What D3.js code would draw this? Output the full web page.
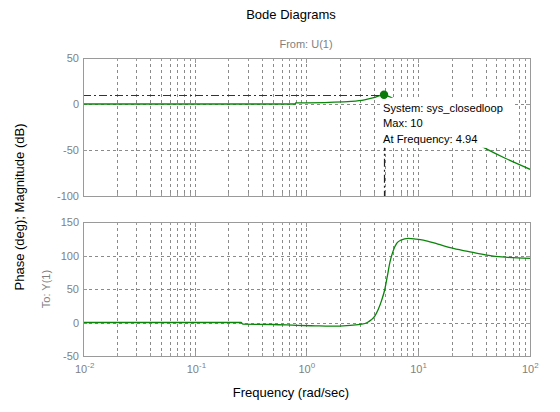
<!DOCTYPE html>
<html>
<head>
<meta charset="utf-8">
<script src="https://cdn.jsdelivr.net/npm/d3@7"></script>
<style>
  html, body { margin: 0; padding: 0; background: #fff; }
  svg { display: block; font-family: "Liberation Sans", Arial, Helvetica, sans-serif; }
</style>
</head>
<body>
<svg id="chart" width="560" height="412"></svg>
<script>
// Closed-loop frequency response: magnitude (dB) and phase (deg) against frequency (rad/s)
const magFreq = [0.01, 0.1, 0.5, 0.79, 0.8, 1.0, 1.6, 2.5, 3.3, 4.0, 4.6, 4.94, 5.5, 6.5, 8, 10, 15, 20, 30, 39.5, 60, 100];
const magDb   = [0, 0, 0, 0, 1.2, 1.3, 1.8, 2.8, 4.5, 6.8, 9.4, 10, 8, 3, -4, -12, -22, -29, -40, -48, -59, -71];

const phaseFreq = [0.01, 0.1, 0.26, 0.27, 0.5, 0.81, 1.2, 1.63, 2.46, 3.13, 3.5, 3.8, 4.1, 4.4, 4.7, 5.03, 5.3, 5.58, 6.0, 6.41, 7.0, 8.13, 9.5, 11.1, 15, 20.6, 30, 40.9, 60, 100];
const phaseDeg  = [0, 0, 0, -2.5, -3, -4.2, -5, -5.5, -4.2, -2.5, 0, 4, 10, 20, 33, 50, 70, 90, 108, 118, 123, 125.5, 124.5, 123, 117, 110.7, 105, 100.7, 97.5, 95.8];

// Data tip at the resonance peak
const peakFreq = 4.94;
const peakDb = 10;
const tipLines = ["System: sys_closedloop", "Max: 10", "At Frequency: 4.94"];

// Axis ticks
const freqTicks = [0.01, 0.1, 1, 10, 100];
const freqExp = ["-2", "-1", "0", "1", "2"];
const magTicks = [50, 0, -50, -100];
const phaseTicks = [150, 100, 50, 0, -50];

const svg = d3.select("#chart");
const left = 83, right = 530;
const top1 = 58, bot1 = 196;
const top2 = 222, bot2 = 356;

const x = d3.scaleLog().domain([0.01, 100]).range([left, right]);
const yMag = d3.scaleLinear().domain([-100, 50]).range([bot1, top1]);
const yPh = d3.scaleLinear().domain([-50, 150]).range([bot2, top2]);

const gridColor = "#8a8a8a";
const axisColor = "#9a9a9a";
const tickText = "#7f7f7f";
const lineColor = "#0a850a";

// Minor/major frequency grid values
const gridFreqs = [];
for (let d = -2; d <= 1; d++) {
  for (let k = 1; k <= 9; k++) gridFreqs.push(k * Math.pow(10, d));
}

function panel(yScale, yTicks, top, bot, clipId) {
  const g = svg.append("g");
  g.append("rect").attr("x", left).attr("y", top).attr("width", right - left).attr("height", bot - top)
    .attr("fill", "#fff");
  // vertical grid
  g.selectAll(null).data(gridFreqs.slice(1)).join("line")
    .attr("x1", d => Math.round(x(d)) + 0.5).attr("x2", d => Math.round(x(d)) + 0.5)
    .attr("y1", top).attr("y2", bot)
    .attr("stroke", gridColor).attr("stroke-width", 1).attr("stroke-dasharray", "3,3");
  // horizontal grid
  g.selectAll(null).data(yTicks.filter(v => v !== yScale.domain()[0] && v !== yScale.domain()[1])).join("line")
    .attr("x1", left).attr("x2", right)
    .attr("y1", d => Math.round(yScale(d)) + 0.5).attr("y2", d => Math.round(yScale(d)) + 0.5)
    .attr("stroke", gridColor).attr("stroke-width", 1).attr("stroke-dasharray", "3,3");
  // tick marks along box edges
  const tl = 4;
  g.selectAll(null).data(gridFreqs.slice(1)).join("line")
    .attr("x1", d => Math.round(x(d)) + 0.5).attr("x2", d => Math.round(x(d)) + 0.5)
    .attr("y1", top).attr("y2", d => top + (Number.isInteger(Math.log10(d)) ? tl + 1 : tl - 1))
    .attr("stroke", axisColor);
  g.selectAll(null).data(gridFreqs.slice(1)).join("line")
    .attr("x1", d => Math.round(x(d)) + 0.5).attr("x2", d => Math.round(x(d)) + 0.5)
    .attr("y1", bot).attr("y2", d => bot - (Number.isInteger(Math.log10(d)) ? tl + 1 : tl - 1))
    .attr("stroke", axisColor);
  g.selectAll(null).data(yTicks).join("line")
    .attr("x1", left).attr("x2", left + tl)
    .attr("y1", d => Math.round(yScale(d)) + 0.5).attr("y2", d => Math.round(yScale(d)) + 0.5)
    .attr("stroke", axisColor);
  g.selectAll(null).data(yTicks).join("line")
    .attr("x1", right).attr("x2", right - tl)
    .attr("y1", d => Math.round(yScale(d)) + 0.5).attr("y2", d => Math.round(yScale(d)) + 0.5)
    .attr("stroke", axisColor);
  // y tick labels
  g.selectAll(null).data(yTicks).join("text")
    .attr("x", left - 4).attr("y", d => yScale(d) + 4)
    .attr("text-anchor", "end").attr("font-size", 11).attr("fill", tickText)
    .text(d => d);
  // clip path for data
  svg.append("clipPath").attr("id", clipId).append("rect")
    .attr("x", left).attr("y", top).attr("width", right - left).attr("height", bot - top);
  return g;
}

panel(yMag, magTicks, top1, bot1, "clipMag");
panel(yPh, phaseTicks, top2, bot2, "clipPh");

// Magnitude curve
const magPts = magFreq.map((f, i) => [f, magDb[i]]);
const magLine = d3.line().x(d => x(d[0])).y(d => yMag(d[1])).curve(d3.curveMonotoneX);
svg.append("path").attr("d", magLine(magPts)).attr("clip-path", "url(#clipMag)")
  .attr("fill", "none").attr("stroke", lineColor).attr("stroke-width", 1.3);

// Phase curve
const phPts = phaseFreq.map((f, i) => [f, phaseDeg[i]]);
const phLine = d3.line().x(d => x(d[0])).y(d => yPh(d[1])).curve(d3.curveMonotoneX);
svg.append("path").attr("d", phLine(phPts)).attr("clip-path", "url(#clipPh)")
  .attr("fill", "none").attr("stroke", lineColor).attr("stroke-width", 1.3);

// Peak markers: dash-dot guides to the axes
const px = x(peakFreq), py = yMag(peakDb);
svg.append("line").attr("x1", left).attr("x2", px).attr("y1", Math.round(py) + 0.5).attr("y2", Math.round(py) + 0.5)
  .attr("stroke", "#333").attr("stroke-width", 1.2).attr("stroke-dasharray", "8,3,2,3");
svg.append("line").attr("x1", Math.round(px) + 0.5).attr("x2", Math.round(px) + 0.5).attr("y1", py).attr("y2", bot1)
  .attr("stroke", "#222").attr("stroke-width", 1.2).attr("stroke-dasharray", "8,3,2,3");

// Data tip box
const tip = svg.append("g");
tip.append("rect").attr("x", px - 3).attr("y", py + 3).attr("width", 134).attr("height", 50).attr("fill", "#fff");
tip.selectAll(null).data(tipLines).join("text")
  .attr("x", px - 1).attr("y", (d, i) => py + 17 + i * 15.5)
  .attr("font-size", 11.2).attr("fill", "#000")
  .text(d => d);

svg.append("circle").attr("cx", px).attr("cy", py).attr("r", 4.2).attr("fill", "#0a7a0a");

// panel borders
[[top1, bot1], [top2, bot2]].forEach(([t, b]) => {
  svg.append("rect").attr("x", left + 0.5).attr("y", t + 0.5).attr("width", right - left).attr("height", b - t)
    .attr("fill", "none").attr("stroke", axisColor);
});

// Frequency tick labels (powers of ten)
const xl = svg.append("g");
freqTicks.forEach((f, i) => {
  const t = xl.append("text").attr("x", x(f) - 8).attr("y", bot2 + 17)
    .attr("font-size", 11).attr("fill", tickText);
  t.append("tspan").text("10");
  t.append("tspan").attr("dy", -5).attr("font-size", 8).text(freqExp[i]);
});

// Titles and labels
svg.append("text").attr("x", 291).attr("y", 19).attr("text-anchor", "middle")
  .attr("font-size", 13).attr("fill", "#000").text("Bode Diagrams");
svg.append("text").attr("x", 306).attr("y", 48).attr("text-anchor", "middle")
  .attr("font-size", 11).attr("fill", tickText).text("From: U(1)");
svg.append("text").attr("x", 291).attr("y", 397).attr("text-anchor", "middle")
  .attr("font-size", 13).attr("fill", "#000").text("Frequency (rad/sec)");
svg.append("text").attr("transform", "translate(24,207) rotate(-90)").attr("text-anchor", "middle")
  .attr("font-size", 13).attr("fill", "#000").text("Phase (deg); Magnitude (dB)");
svg.append("text").attr("transform", "translate(50,289) rotate(-90)").attr("text-anchor", "middle")
  .attr("font-size", 11).attr("fill", tickText).text("To: Y(1)");
</script>
</body>
</html>
